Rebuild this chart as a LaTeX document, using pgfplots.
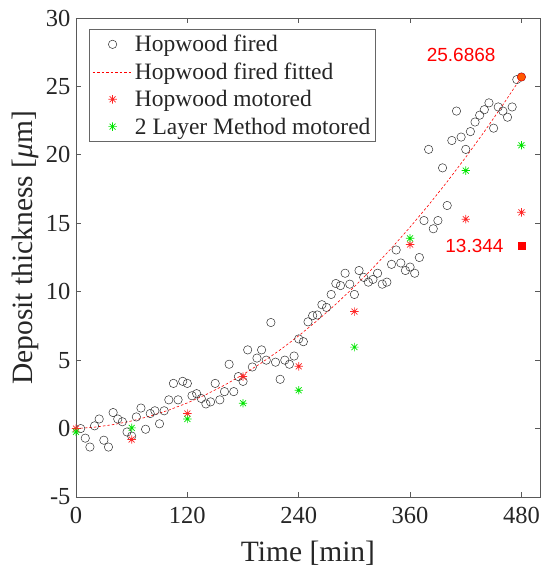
\documentclass[border=0pt]{standalone}
\usepackage{fontspec}
\setmainfont{Liberation Serif}
\newfontfamily\arialf{Liberation Sans}
\usepackage{pgfplots}
\pgfplotsset{compat=1.18}

% MATLAB style '*' marker: a plus and a cross
\pgfdeclareplotmark{mstar}{%
  \pgfpathmoveto{\pgfqpoint{-\pgfplotmarksize}{0pt}}%
  \pgfpathlineto{\pgfqpoint{\pgfplotmarksize}{0pt}}%
  \pgfpathmoveto{\pgfqpoint{0pt}{-\pgfplotmarksize}}%
  \pgfpathlineto{\pgfqpoint{0pt}{\pgfplotmarksize}}%
  \pgfpathmoveto{\pgfqpoint{-0.707\pgfplotmarksize}{-0.707\pgfplotmarksize}}%
  \pgfpathlineto{\pgfqpoint{0.707\pgfplotmarksize}{0.707\pgfplotmarksize}}%
  \pgfpathmoveto{\pgfqpoint{-0.707\pgfplotmarksize}{0.707\pgfplotmarksize}}%
  \pgfpathlineto{\pgfqpoint{0.707\pgfplotmarksize}{-0.707\pgfplotmarksize}}%
  \pgfusepathqstroke}

\pgfplotsset{
  legmark/.style={legend image code/.code={%
    \draw[mark repeat=2,mark phase=2,##1] plot coordinates {(0pt,0pt)(20pt,0pt)(40pt,0pt)};}},
  legline/.style={legend image code/.code={%
    \draw[##1] (0pt,0pt) -- (40pt,0pt);}},
}

\begin{document}
\begin{tikzpicture}
\useasboundingbox (-76pt,-74pt) rectangle (468pt,497pt);
\begin{axis}[
  scale only axis, width=464pt, height=479pt,
  xmin=0, xmax=500, ymin=-5, ymax=30,
  xtick={0,120,240,360,480}, ytick={-5,0,...,30},
  tick align=inside, major tick length=5pt,
  axis line style={black!65, line width=0.8pt},
  every tick/.style={black!65, line width=0.8pt},
  tick label style={font=\fontsize{24.5}{29}\selectfont, text=black!85},
  xticklabel style={yshift=-7pt},
  yticklabel style={xshift=-2pt},
  /pgf/number format/assume math mode=true,
  xlabel={Time [min]},
  ylabel={Deposit thickness [\textit{μ}m]},
  label style={font=\fontsize{29.5}{34}\selectfont, text=black!85},
  xlabel style={at={(axis description cs:0.5,-0.117)}, anchor=center},
  ylabel style={at={(axis description cs:-0.11,0.52)}, anchor=center},
  legend style={at={(axis description cs:0.028,0.977)}, anchor=north west,
    draw=black!60, line width=0.6pt, fill=white, row sep=5.5pt,
    inner ysep=4pt,
    font=\fontsize{23.5}{28}\selectfont, text=black!85},
  legend cell align=left,
]
\addplot[only marks, mark=o, mark size=4.2pt, black!80, line width=0.5pt, legmark] coordinates {
  (5,0.0)(10,-0.7)(15,-1.35)(20,0.2)(25,0.7)(30,-0.85)(35,-1.35)(40,1.17)
  (45,0.7)(50,0.5)(55,-0.25)(60,-0.55)(65,0.85)(70,1.5)(75,-0.05)(80,1.1)
  (85,1.3)(90,0.35)(95,1.3)(100,2.1)(105,3.3)(110,2.1)(115,3.45)(120,3.3)
  (125,2.4)(130,2.55)(135,2.2)(140,1.8)(145,1.95)(150,3.3)(155,2.1)(160,2.7)
  (165,4.7)(170,2.7)(175,3.8)(180,3.45)(185,5.75)(190,4.5)(195,5.15)(200,5.75)
  (205,5.0)(210,7.75)(215,4.85)(220,3.6)(225,5.0)(230,4.7)(235,5.3)(240,6.55)
  (245,6.35)(250,7.8)(255,8.25)(260,8.3)(265,9.05)(270,8.85)(275,9.8)(280,10.6)
  (285,10.45)(290,11.35)(295,10.55)(300,9.8)(305,11.55)(310,11.05)(315,10.7)(320,10.9)
  (325,11.35)(330,10.55)(335,10.7)(340,12.0)(345,13.05)(350,12.1)(355,11.55)(360,11.8)
  (365,11.35)(370,12.5)(375,15.2)(380,20.4)(385,14.6)(390,15.2)(395,19.05)(400,16.3)
  (405,21.05)(410,23.2)(415,21.3)(420,20.4)(425,21.7)(430,22.4)(435,22.9)(440,23.3)
  (445,23.8)(450,21.95)(455,23.5)(460,23.2)(465,22.75)(470,23.5)(475,25.5)(480,25.69)
};
\addlegendentry{Hopwood fired}
\addplot[red, line width=0.6pt, dash pattern=on 2.5pt off 2pt, legline] coordinates {
  (0,0)(20,0.102)(40,0.288)(60,0.558)(80,0.912)(100,1.351)(120,1.874)
  (140,2.481)(160,3.172)(180,3.948)(200,4.808)(220,5.752)(240,6.781)
  (260,7.893)(280,9.090)(300,10.371)(320,11.736)(340,13.186)(360,14.720)
  (380,16.338)(400,18.040)(420,19.827)(440,21.697)(460,23.652)(480,25.687)
};
\addlegendentry{Hopwood fired fitted}
\addplot[only marks, mark=mstar, mark size=4.2pt, red!85, line width=0.7pt, legmark] coordinates {
  (0,0)(60,-0.8)(120,1.1)(180,3.8)(240,4.55)(300,8.55)(360,13.45)(420,15.3)(480,15.8)
};
\addlegendentry{Hopwood motored}
\addplot[only marks, mark=mstar, mark size=4.2pt, green!90!black, line width=0.7pt, legmark] coordinates {
  (0,-0.25)(60,0.05)(120,0.7)(180,1.85)(240,2.8)(300,5.95)(360,13.9)(420,18.85)(480,20.7)
};
\addlegendentry{2 Layer Method motored}
\addplot[only marks, mark=*, mark size=4pt, draw=red, fill=orange!70!red, forget plot] coordinates {(480,25.6868)};
\addplot[only marks, mark=square*, mark size=3.3pt, red, forget plot] coordinates {(480,13.344)};
\node[font=\arialf\fontsize{19}{22}\selectfont, text=red] at (axis cs:415,27.3) {25.6868};
\node[font=\arialf\fontsize{19}{22}\selectfont, text=red, anchor=east] at (axis cs:464.5,13.37) {13.344};
\end{axis}
\end{tikzpicture}
\end{document}
